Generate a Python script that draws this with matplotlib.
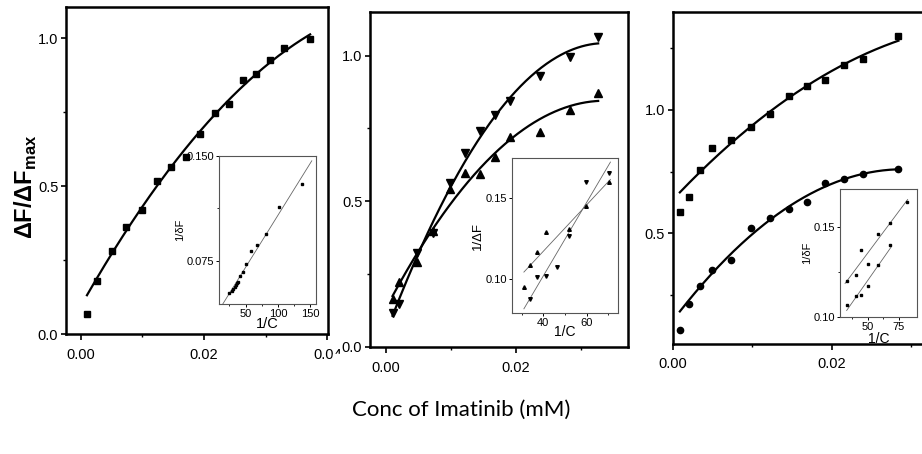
import numpy as np
import matplotlib
matplotlib.use('Agg')
import matplotlib.pyplot as plt
from matplotlib.ticker import FixedLocator
from matplotlib.patches import Rectangle

plt.rcParams['font.family'] = ['Liberation Sans Narrow', 'Liberation Sans', 'DejaVu Sans']
plt.rcParams['mathtext.fontset'] = 'custom'
plt.rcParams['mathtext.rm'] = 'Liberation Sans'
plt.rcParams['mathtext.bf'] = 'Liberation Sans:bold'

# panel 1 (squares)
p1_x = [0.0010, 0.0026, 0.0050, 0.0074, 0.0099, 0.0123, 0.0146, 0.0170,
        0.0193, 0.0217, 0.0240, 0.0263, 0.0285, 0.0307, 0.0330, 0.0372]
p1_y = [0.068, 0.180, 0.279, 0.360, 0.418, 0.516, 0.565, 0.598,
        0.676, 0.746, 0.777, 0.860, 0.878, 0.925, 0.966, 0.998]

# panel 2 (down / up triangles)
p2_x = [0.0010, 0.0020, 0.0048, 0.0073, 0.0099, 0.0122, 0.0145, 0.0168,
        0.0191, 0.0237, 0.0283, 0.0327]
p2_down = [0.115, 0.147, 0.321, 0.390, 0.564, 0.664, 0.742, 0.796,
           0.844, 0.930, 0.997, 1.065]
p2_up = [0.163, 0.223, 0.290, 0.398, 0.541, 0.596, 0.594, 0.653,
         0.722, 0.739, 0.813, 0.871]

# panel 3 (squares / circles)
p3_x = [0.0009, 0.0020, 0.0034, 0.0049, 0.0073, 0.0098, 0.0122, 0.0146,
        0.0169, 0.0192, 0.0216, 0.0239, 0.0284]
p3_sq = [0.588, 0.649, 0.757, 0.845, 0.878, 0.932, 0.982, 1.058,
         1.099, 1.122, 1.182, 1.207, 1.300]
p3_ci = [0.108, 0.216, 0.287, 0.351, 0.392, 0.520, 0.561, 0.599,
         0.626, 0.705, 0.720, 0.741, 0.761]

# inset 1 (double reciprocal)
in1_x = [25, 29, 31, 33.5, 35, 37, 39, 41, 45.5, 51, 58, 68.5, 82, 102, 137]
in1_y = [0.0518, 0.0534, 0.0549, 0.0561, 0.0573, 0.0590, 0.0601, 0.0637,
         0.0666, 0.0726, 0.0817, 0.0863, 0.0939, 0.1138, 0.1296]

# inset 2
in2_x = [31.1, 33.9, 37.2, 41.2, 46.2, 52.0, 59.7, 70.5]
in2_down = [None, 0.0878, 0.1016, 0.1020, 0.1078, 0.1270, 0.1600, 0.1660]
in2_up = [0.0951, 0.1088, 0.1170, 0.1294, None, 0.1310, 0.1450, 0.1600]

# inset 3
in3_x_up = [32.8, 40.2, 44.5, 50.5, 57.9, 68.0, 81.9]
in3_up = [0.1198, 0.1235, 0.1370, 0.1295, 0.1463, 0.1522, 0.1640]
in3_x_lo = [32.8, 40.2, 44.5, 50.5, 57.9, 68.0]
in3_lo = [0.1067, 0.1114, 0.1121, 0.1172, 0.1286, 0.1401]


def fit_curve(ax, x, y, deg, x0=None, x1=None, **kw):
	x = np.asarray(x, float)
	y = np.asarray(y, float)
	c = np.polyfit(x, y, deg)
	xs = np.linspace(x.min() if x0 is None else x0, x.max() if x1 is None else x1, 200)
	ax.plot(xs, np.polyval(c, xs), **kw)


def main_style(ax):
	for s in ax.spines.values():
		s.set_linewidth(1.8)
	ax.tick_params(which='major', direction='out', length=3.5, width=1.2, labelsize=10.5, pad=2)
	ax.tick_params(which='minor', direction='out', length=2.5, width=1.0)
	ax.tick_params(axis='x', which='major', length=4, pad=6)


def inset_style(ax):
	for s in ax.spines.values():
		s.set_linewidth(0.8)
		s.set_color('#555555')
	ax.tick_params(which='major', direction='out', length=2.5, width=0.7, labelsize=8, pad=1)
	ax.tick_params(which='minor', direction='out', length=1.5, width=0.6)


def pair(x, y):
	pts = [(a, b) for a, b in zip(x, y) if b is not None]
	return [p[0] for p in pts], [p[1] for p in pts]


fig = plt.figure(figsize=(9.22, 4.54), dpi=100)

W, H = 922.0, 454.0


def px_axes(l, t, r, b):
	return fig.add_axes([l / W, 1 - b / H, (r - l) / W, (b - t) / H])


line_kw = dict(color='black', lw=1.6, zorder=2)
thin_kw = dict(color='#666666', lw=0.6, zorder=2)

# ---- panel 1
ax1 = px_axes(66, 7, 328, 334)
ax1.plot(p1_x, p1_y, 's', color='black', ms=3.8, zorder=3)
fit_curve(ax1, p1_x[1:], p1_y[1:], 2, x0=p1_x[0], **line_kw)
ax1.set_xlim(-0.0024, 0.0401)
ax1.set_ylim(0, 1.105)
ax1.xaxis.set_major_locator(FixedLocator([0.0, 0.02, 0.04]))
ax1.xaxis.set_minor_locator(FixedLocator([0.01, 0.03]))
ax1.yaxis.set_major_locator(FixedLocator([0.0, 0.5, 1.0]))
ax1.yaxis.set_minor_locator(FixedLocator([0.25, 0.75]))
ax1.set_xticklabels(['0.00', '0.02', '0.04'])
ax1.set_yticklabels(['0.0', '0.5', '1.0'])
main_style(ax1)

ins1 = px_axes(219, 156, 316, 304)
ins1.plot(in1_x, in1_y, 's', color='black', ms=2.0, zorder=3)
fit_curve(ins1, in1_x, in1_y, 1, x0=12.5, x1=152.5, **thin_kw)
ins1.set_xlim(9, 159)
ins1.set_ylim(0.044, 0.150)
ins1.xaxis.set_major_locator(FixedLocator([50, 100, 150]))
ins1.xaxis.set_minor_locator(FixedLocator([25, 75, 125]))
ins1.yaxis.set_major_locator(FixedLocator([0.075, 0.150]))
ins1.yaxis.set_minor_locator(FixedLocator([0.1125]))
ins1.set_yticklabels(['0.075', '0.150'])
ins1.set_xlabel('1/C', fontsize=10.5, labelpad=-1)
ins1.set_ylabel('1/\u03b4F', fontsize=8, labelpad=1)
inset_style(ins1)

# ---- panel 2
ax2 = px_axes(370, 12, 628, 346.7)
ax2.plot(p2_x, p2_down, 'v', color='black', ms=5.5, zorder=3)
ax2.plot(p2_x, p2_up, '^', color='black', ms=5.5, zorder=3)
fit_curve(ax2, p2_x, p2_down, 2, **line_kw)
fit_curve(ax2, p2_x, p2_up, 2, **line_kw)
ax2.set_xlim(-0.00247, 0.0373)
ax2.set_ylim(0, 1.15)
ax2.xaxis.set_major_locator(FixedLocator([0.0, 0.02]))
ax2.xaxis.set_minor_locator(FixedLocator([0.01, 0.03]))
ax2.yaxis.set_major_locator(FixedLocator([0.0, 0.5, 1.0]))
ax2.yaxis.set_minor_locator(FixedLocator([0.25, 0.75]))
ax2.set_xticklabels(['0.00', '0.02'])
ax2.set_yticklabels(['0.0', '0.5', '1.0'])
main_style(ax2)

ins2 = px_axes(512, 158, 618, 313)
dx, dy = pair(in2_x, in2_down)
ux, uy = pair(in2_x, in2_up)
ins2.plot(dx, dy, 'v', color='black', ms=2.6, zorder=3)
ins2.plot(ux, uy, '^', color='black', ms=2.6, zorder=3)
fit_curve(ins2, dx, dy, 1, x0=31.0, x1=71.0, **thin_kw)
fit_curve(ins2, ux, uy, 1, x0=31.0, x1=71.0, **thin_kw)
ins2.set_xlim(25.5, 74.5)
ins2.set_ylim(0.079, 0.175)
ins2.xaxis.set_major_locator(FixedLocator([40, 60]))
ins2.xaxis.set_minor_locator(FixedLocator([30, 50, 70]))
ins2.yaxis.set_major_locator(FixedLocator([0.10, 0.15]))
ins2.set_yticklabels(['0.10', '0.15'])
ins2.set_xlabel('1/C', fontsize=10, labelpad=-2)
ins2.set_ylabel('1/\u0394F', fontsize=9.5, labelpad=1)
inset_style(ins2)

# ---- panel 3
ax3 = px_axes(672.7, 11.7, 925, 343.5)
ax3.plot(p3_x, p3_sq, 's', color='black', ms=4.2, zorder=3)
ax3.plot(p3_x, p3_ci, 'o', color='black', ms=4.5, zorder=3)
fit_curve(ax3, p3_x[1:], p3_sq[1:], 2, x0=p3_x[0], **line_kw)
fit_curve(ax3, p3_x[1:], p3_ci[1:], 2, x0=p3_x[0], **line_kw)
ax3.set_xlim(0.0, 0.03174)
ax3.set_ylim(0.054, 1.398)
ax3.xaxis.set_major_locator(FixedLocator([0.0, 0.02]))
ax3.xaxis.set_minor_locator(FixedLocator([0.01, 0.03]))
ax3.yaxis.set_major_locator(FixedLocator([0.5, 1.0]))
ax3.yaxis.set_minor_locator(FixedLocator([0.25, 0.75, 1.25]))
ax3.set_xticklabels(['0.00', '0.02'])
ax3.set_yticklabels(['0.5', '1.0'])
main_style(ax3)

ins3 = px_axes(840, 189, 917, 317)
ins3.plot(in3_x_up, in3_up, 's', color='black', ms=1.8, zorder=3)
ins3.plot(in3_x_lo, in3_lo, 's', color='black', ms=1.8, zorder=3)
fit_curve(ins3, in3_x_up, in3_up, 1, x0=31.5, x1=82.4, **thin_kw)
fit_curve(ins3, in3_x_lo, in3_lo, 1, x0=32.8, x1=68.8, **thin_kw)
ins3.set_xlim(27.4, 90)
ins3.set_ylim(0.10, 0.171)
ins3.xaxis.set_major_locator(FixedLocator([50, 75]))
ins3.xaxis.set_minor_locator(FixedLocator([37.5, 62.5]))
ins3.yaxis.set_major_locator(FixedLocator([0.10, 0.15]))
ins3.yaxis.set_minor_locator(FixedLocator([0.125]))
ins3.set_yticklabels(['0.10', '0.15'])
ins3.set_xlabel('1/C', fontsize=10, labelpad=0)
ins3.set_ylabel('1/\u03b4F', fontsize=8, labelpad=1)
inset_style(ins3)

# cropped look of the "0.04" label in the source
fig.patches.append(Rectangle((333 / W, 1 - 380 / H), 20 / W, 26 / H,
                             transform=fig.transFigure, color='white', zorder=10))

fig.text(26 / W, 1 - 187 / H, '\u0394F/\u0394F$_{\\mathbf{max}}$', rotation=90,
         ha='center', va='center', fontsize=17, fontweight='bold',
         family=['Liberation Sans', 'DejaVu Sans'])
fig.text(461 / W, 1 - 410 / H, 'Conc of Imatinib (mM)', ha='center', va='center',
         fontsize=16, family=['Lato', 'DejaVu Sans'])

fig.savefig('out.png', dpi=100)
